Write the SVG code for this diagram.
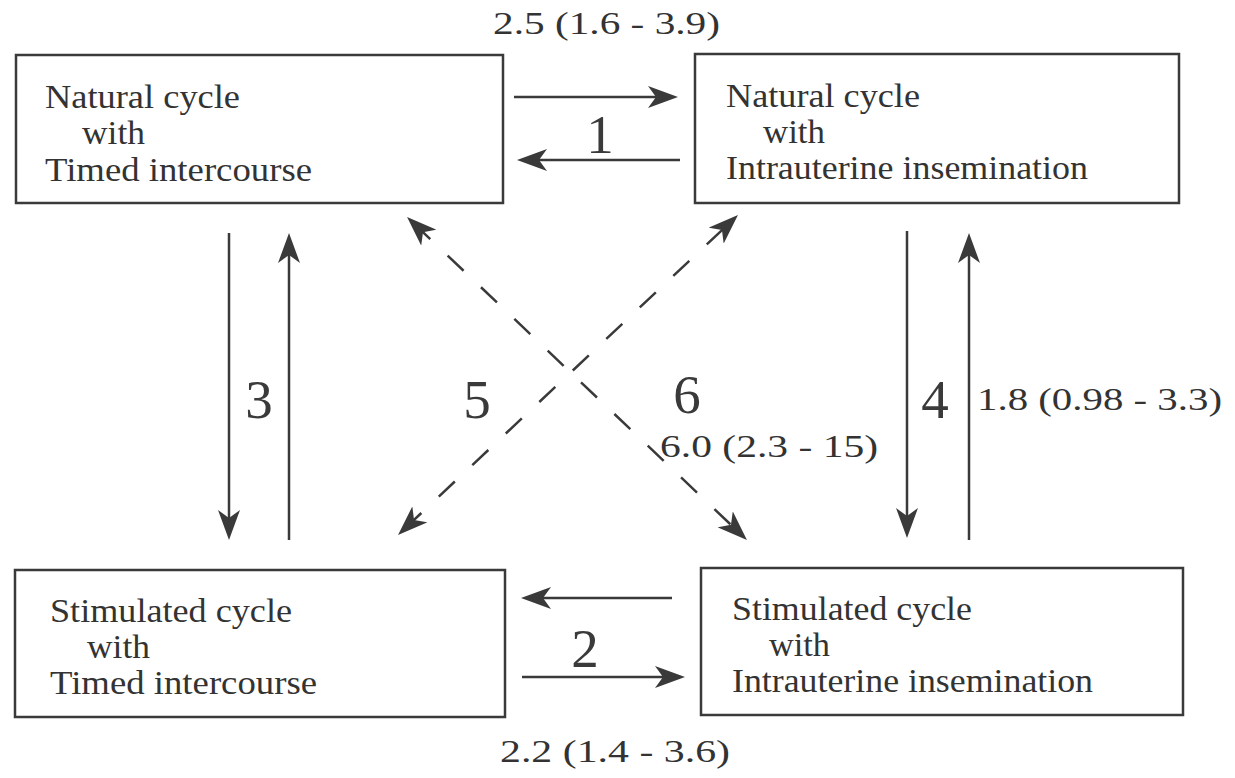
<svg xmlns="http://www.w3.org/2000/svg" width="1235" height="778" viewBox="0 0 1235 778">
<style>
.box{fill:none;stroke:#3a3a3a;stroke-width:2.5}
.t{font-family:"Liberation Serif","Times New Roman",serif;font-size:34px;fill:#333}
.n{font-family:"Liberation Serif","Times New Roman",serif;font-size:55px;fill:#3a3a3a;text-anchor:middle}
.s{font-family:"Liberation Serif","Times New Roman",serif;font-size:32px;fill:#333}
.ln{stroke:#3a3a3a;stroke-width:2.5;fill:none;marker-end:url(#ah)}
.dl{stroke:#3a3a3a;stroke-width:2.5;fill:none;stroke-dasharray:22 24;marker-start:url(#ah);marker-end:url(#ah)}
</style>
<defs>
<marker id="ah" viewBox="0 0 30 22" refX="20" refY="11" markerWidth="30" markerHeight="22" markerUnits="userSpaceOnUse" orient="auto-start-reverse">
<path d="M0,0 L30,11 L0,22 L8,11 Z" fill="#3a3a3a"/>
</marker>
</defs>
<rect width="1235" height="778" fill="#ffffff"/>
<g id="node-natural-ti">
<rect class="box" x="16" y="55" width="487" height="148"/>
<text class="t" x="45" y="108" textLength="195" lengthAdjust="spacingAndGlyphs">Natural cycle</text>
<text class="t" x="82" y="144" textLength="63" lengthAdjust="spacingAndGlyphs">with</text>
<text class="t" x="45" y="181" textLength="267" lengthAdjust="spacingAndGlyphs">Timed intercourse</text>
</g>
<g id="node-natural-iui">
<rect class="box" x="695" y="54" width="484" height="149"/>
<text class="t" x="726" y="107" textLength="194" lengthAdjust="spacingAndGlyphs">Natural cycle</text>
<text class="t" x="763" y="143" textLength="62" lengthAdjust="spacingAndGlyphs">with</text>
<text class="t" x="726" y="179" textLength="362" lengthAdjust="spacingAndGlyphs">Intrauterine insemination</text>
</g>
<g id="node-stimulated-ti">
<rect class="box" x="15" y="570" width="490" height="147"/>
<text class="t" x="50" y="622" textLength="242" lengthAdjust="spacingAndGlyphs">Stimulated cycle</text>
<text class="t" x="87" y="658" textLength="63" lengthAdjust="spacingAndGlyphs">with</text>
<text class="t" x="50" y="694" textLength="267" lengthAdjust="spacingAndGlyphs">Timed intercourse</text>
</g>
<g id="node-stimulated-iui">
<rect class="box" x="701" y="568" width="482" height="147"/>
<text class="t" x="732" y="620" textLength="240" lengthAdjust="spacingAndGlyphs">Stimulated cycle</text>
<text class="t" x="769" y="656" textLength="61" lengthAdjust="spacingAndGlyphs">with</text>
<text class="t" x="732" y="692" textLength="361" lengthAdjust="spacingAndGlyphs">Intrauterine insemination</text>
</g>
<g id="connectors">
<line class="ln" x1="514" y1="97" x2="668" y2="97"/>
<line class="ln" x1="680" y1="160" x2="527" y2="160"/>
<line class="ln" x1="672" y1="598" x2="531" y2="598"/>
<line class="ln" x1="522" y1="677" x2="675" y2="677"/>
<line class="ln" x1="229" y1="233" x2="229" y2="530"/>
<line class="ln" x1="289" y1="540" x2="289" y2="243"/>
<line class="ln" x1="907" y1="231" x2="907" y2="528"/>
<line class="ln" x1="969" y1="540" x2="969" y2="243"/>
<line class="dl" x1="414.3" y1="223.9" x2="739.7" y2="533.1"/>
<line class="dl" x1="405.3" y1="528.1" x2="730.7" y2="221.9"/>
</g>
<g id="labels">
<text class="s" x="493" y="34" textLength="227" lengthAdjust="spacingAndGlyphs">2.5 (1.6 - 3.9)</text>
<text class="s" x="500" y="762" textLength="230" lengthAdjust="spacingAndGlyphs">2.2 (1.4 - 3.6)</text>
<text class="s" x="977" y="410" textLength="245" lengthAdjust="spacingAndGlyphs">1.8 (0.98 - 3.3)</text>
<text class="s" x="660" y="457" textLength="218" lengthAdjust="spacingAndGlyphs">6.0 (2.3 - 15)</text>
<text class="n" x="600" y="153">1</text>
<text class="n" x="585" y="667">2</text>
<text class="n" x="259" y="418">3</text>
<text class="n" x="935" y="418">4</text>
<text class="n" x="477" y="418">5</text>
<text class="n" x="687" y="413">6</text>
</g>
</svg>
